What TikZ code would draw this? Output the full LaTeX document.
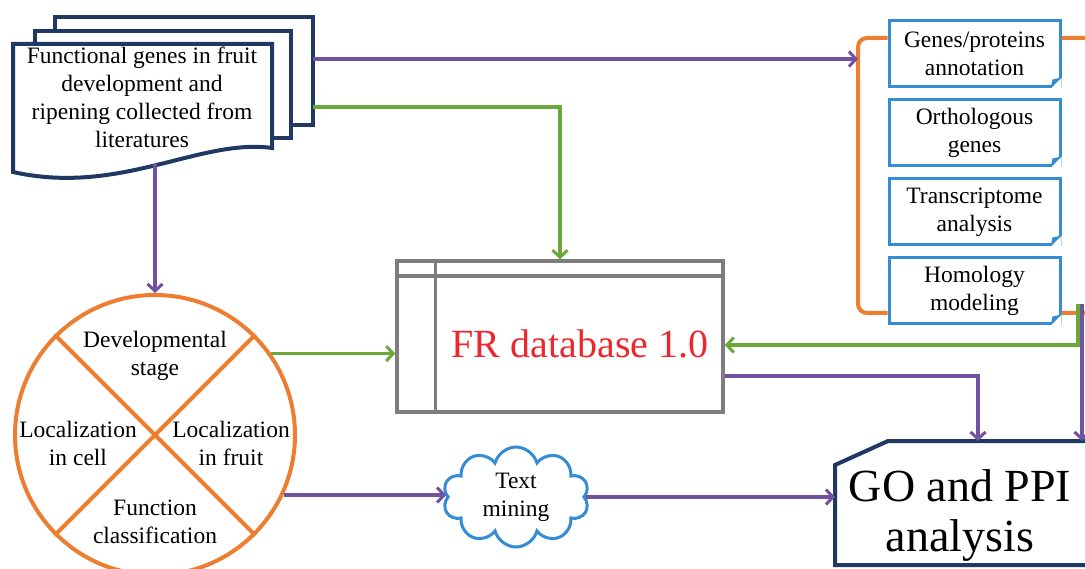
\documentclass[tikz,border=0pt]{standalone}
\usepackage{fontspec}
\setmainfont{Liberation Serif}
\usepackage{tikz}
\usetikzlibrary{arrows.meta, calc, positioning, shapes.symbols}

\definecolor{docnavy}{RGB}{31,56,100}
\definecolor{orng}{RGB}{237,125,49}
\definecolor{boxblue}{RGB}{52,140,212}
\definecolor{purp}{RGB}{112,82,160}
\definecolor{grn}{RGB}{106,168,60}
\definecolor{dbgray}{RGB}{125,125,128}
\definecolor{frred}{RGB}{236,40,46}

\tikzset{
    txt/.style={align=center, inner sep=0pt, font=\fontsize{23.5}{28}\selectfont},
    docline/.style={draw=docnavy, line width=4pt, fill=white, line join=miter},
    infobox/.style={txt, draw=boxblue, line width=3pt, fill=white, minimum width=171pt, minimum height=66pt},
    purpline/.style={draw=purp, line width=3.5pt, ->},
    grnline/.style={draw=grn, line width=3.5pt, ->},
}

\begin{document}
\begin{tikzpicture}[x=1pt, y=-1pt, >={Straight Barb[length=7pt, width=15pt, line width=3pt]}]
    \useasboundingbox (0,0) rectangle (1085,569);
    \clip (0,0) rectangle (1085,569);

    % stack of papers
    \draw[docline] (55,17) rectangle (313,125);
    \draw[docline] (35,31) rectangle (291,138);
    \draw[docline] (13,44) -- (272,44) -- (272,148)
        .. controls (200,138) and (120,196) .. (13,172) -- cycle;
    \node[txt] (lit) at (142,97) {Functional genes in fruit\\development and\\ripening collected from\\literatures};
    \coordinate (litE1) at (313,59);
    \coordinate (litE2) at (313,107);
    \coordinate (litS) at (155,164);

    % classification wheel
    \node[circle, draw=orng, line width=4pt, minimum size=280pt, inner sep=0pt] (wheel) at (155,435) {};
    \draw[orng, line width=4pt] (wheel.45) -- (wheel.225) (wheel.135) -- (wheel.-45);
    \node[txt] (devstage) at (155,356) {Developmental\\stage};
    \node[txt] (loccell) at (78,443) {Localization\\in cell};
    \node[txt] (locfruit) at (231,443) {Localization\\in fruit};
    \node[txt] (funcls) at (155,522) {Function\\classification};

    % database
    \node[draw=dbgray, line width=3.5pt, minimum width=326pt, minimum height=151pt] (db) at (560,336.5) {};
    \draw[dbgray, line width=3.5pt] ($(db.north west)+(40,0)$) -- ($(db.south west)+(40,0)$)
        ($(db.north west)+(0,17)$) -- ($(db.north east)+(0,17)$);
    \node[text=frred, inner sep=0pt, font=\fontsize{40}{44}\selectfont] (dbtitle) at (580,344) {FR database 1.0};

    % text mining
    \node[txt, cloud, draw=boxblue, line width=3pt, cloud puffs=10, aspect=1.5,
        minimum width=146pt, minimum height=100pt] (txtmine) at (516,497) {Text\\mining};

    % analysis boxes
    \node[infobox] (annot) at (974.5,54) {Genes/proteins\\annotation};
    \node[infobox, below=10pt of annot] (ortho) {Orthologous\\genes};
    \node[infobox, below=10pt of ortho] (trans) {Transcriptome\\analysis};
    \node[infobox, below=10pt of trans] (homol) {Homology\\modeling};
    \foreach \b in {annot, ortho, trans, homol} {
        \fill[white] (\b.south east) -- ++(-11,0) -- ++(11,-11) -- cycle;
        \fill[boxblue] ($(\b.south east)+(-11,0)$) -- ++(11,-11) -- ++(-9,2) -- cycle;
    }
    \coordinate (brkL) at (858,170);
    \draw[orng, line width=4pt, rounded corners=9pt] ($(annot.west)+(0,-16)$) -| (brkL) |- ($(homol.west)+(0,22)$);
    \draw[orng, line width=4pt, rounded corners=9pt] ($(annot.east)+(0,-16)$) -| (1096,170) |- ($(homol.east)+(0,22)$);
    \coordinate (brkG) at (1078,304);
    \coordinate (brkP) at (1082,304);

    % GO and PPI
    \draw[docline] (1100,441) -- (888,441) -- (835,465) -- (835,565) -- (1100,565);
    \node[inner sep=0pt, align=center, font=\fontsize{46}{50}\selectfont] (goppi) at (960,516) {GO and PPI\\analysis};
    \coordinate (goW) at (835,498);
    \coordinate (goN1) at (978,441);
    \coordinate (goN2) at (1082,441);

    % connectors
    \draw[purpline] (litE1) -- (litE1 -| brkL);
    \draw[grnline] (litE2) -| (db.north);
    \draw[purpline] (litS) -- (wheel.north);
    \draw[grnline] (wheel.35) -- (wheel.35 -| db.west);
    \draw[purpline] (wheel.-25) -- (wheel.-25 -| txtmine.west);
    \draw[purpline] (txtmine.east) -- (txtmine.east -| goW);
    \draw[grnline] (brkG) |- ($(db.east)+(0,8.5)$);
    \draw[purpline] ($(db.east)+(0,39.5)$) -| (goN1);
    \draw[purpline] (brkP) -- (goN2);
\end{tikzpicture}
\end{document}
